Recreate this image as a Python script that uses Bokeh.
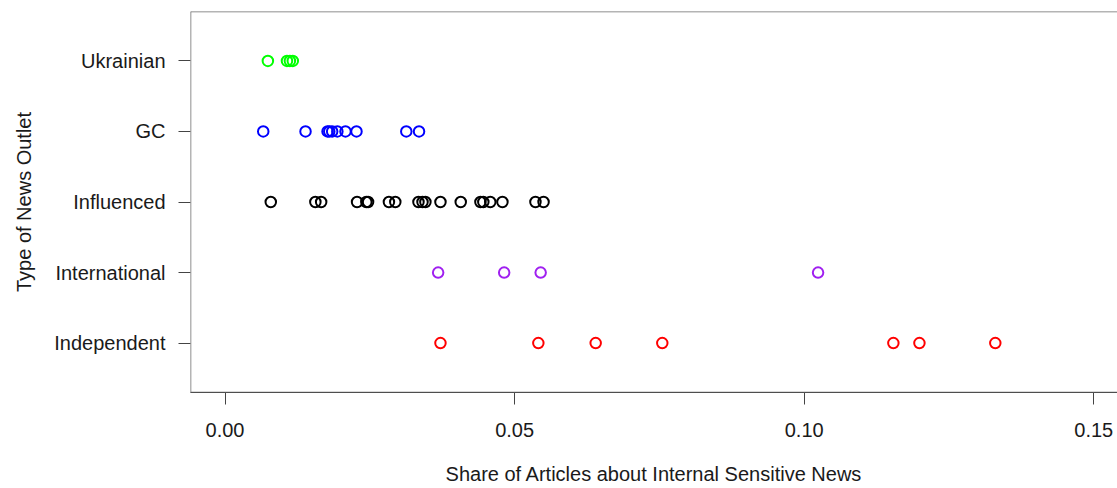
from bokeh.plotting import figure
from bokeh.models import Range1d, FixedTicker, Span, ColumnDataSource, PrintfTickFormatter
from bokeh.embed import file_html
from bokeh.resources import INLINE

# Outlet types, bottom to top, with their point colours
categories = ["Independent", "International", "Influenced", "GC", "Ukrainian"]
colors = ["#FF0000", "#A020F0", "#000000", "#0000FF", "#00FF00"]

# Share of articles about internal sensitive news, one value per outlet
independent = [0.0372, 0.0541, 0.0640, 0.0755, 0.1154, 0.1199, 0.1330]
international = [0.0368, 0.0482, 0.0545, 0.1024]
influenced = [0.0079, 0.0156, 0.0166, 0.0228, 0.0244, 0.0247, 0.0283, 0.0294,
              0.0334, 0.0341, 0.0346, 0.0372, 0.0407, 0.0441, 0.0446, 0.0458,
              0.0479, 0.0536, 0.0550]
gc = [0.0066, 0.0139, 0.0177, 0.0180, 0.0185, 0.0194, 0.0208, 0.0227, 0.0313, 0.0335]
ukrainian = [0.0074, 0.0107, 0.0112, 0.0117]

series = [independent, international, influenced, gc, ukrainian]
x_ticks = [0.0, 0.05, 0.10, 0.15]

FONT = "Liberation Sans"
TEXT = "#1a1a1a"

X_LO, X_HI = -0.00596, 0.1541
Y_LO, Y_HI = 0.3, 5.7

p = figure(width=1117, height=488, output_backend="svg", toolbar_location=None,
           x_range=Range1d(X_LO, X_HI), y_range=Range1d(Y_LO, Y_HI),
           min_border_left=190, min_border_right=0, min_border_top=11,
           min_border_bottom=96)
p.outline_line_color = None
p.grid.visible = False
p.background_fill_color = "white"
p.border_fill_color = "white"

for i, (vals, col) in enumerate(zip(series, colors)):
    src = ColumnDataSource(dict(x=vals, y=[i + 1] * len(vals)))
    p.scatter("x", "y", source=src, marker="circle", size=10.5,
              fill_color=None, line_color=col, line_width=2)

# box around the plot region (right side runs past the page edge)
for loc in (Y_HI, Y_LO):
    p.add_layout(Span(location=loc, dimension="width", line_color="#6a6a6a", line_width=1.5))
p.add_layout(Span(location=X_LO, dimension="height", line_color="#6a6a6a", line_width=1.5))

xa = p.xaxis[0]
xa.ticker = FixedTicker(ticks=x_ticks)
xa.formatter = PrintfTickFormatter(format="%.2f")
xa.axis_line_color = "#333333"
xa.major_tick_out = 12
xa.major_tick_in = 0
xa.major_tick_line_color = "#444444"
xa.minor_tick_line_color = None
xa.major_label_standoff = 18
xa.major_label_text_font = FONT
xa.major_label_text_font_size = "20px"
xa.major_label_text_color = TEXT
xa.axis_label = "Share of Articles about Internal Sensitive News"
xa.axis_label_text_font = FONT
xa.axis_label_text_font_size = "20px"
xa.axis_label_text_font_style = "normal"
xa.axis_label_text_color = TEXT
xa.axis_label_standoff = 23

ya = p.yaxis[0]
ya.ticker = FixedTicker(ticks=[1, 2, 3, 4, 5])
ya.major_label_overrides = {i + 1: c for i, c in enumerate(categories)}
ya.axis_line_color = None
ya.major_tick_out = 12
ya.major_tick_in = 0
ya.major_tick_line_color = "#444444"
ya.minor_tick_line_color = None
ya.major_label_standoff = 13
ya.major_label_text_font = FONT
ya.major_label_text_font_size = "20px"
ya.major_label_text_color = TEXT
ya.axis_label = "Type of News Outlet"
ya.axis_label_text_font = FONT
ya.axis_label_text_font_size = "20px"
ya.axis_label_text_font_style = "normal"
ya.axis_label_text_color = TEXT
ya.axis_label_standoff = 16

open("out.html", "w").write(file_html(p, INLINE))
